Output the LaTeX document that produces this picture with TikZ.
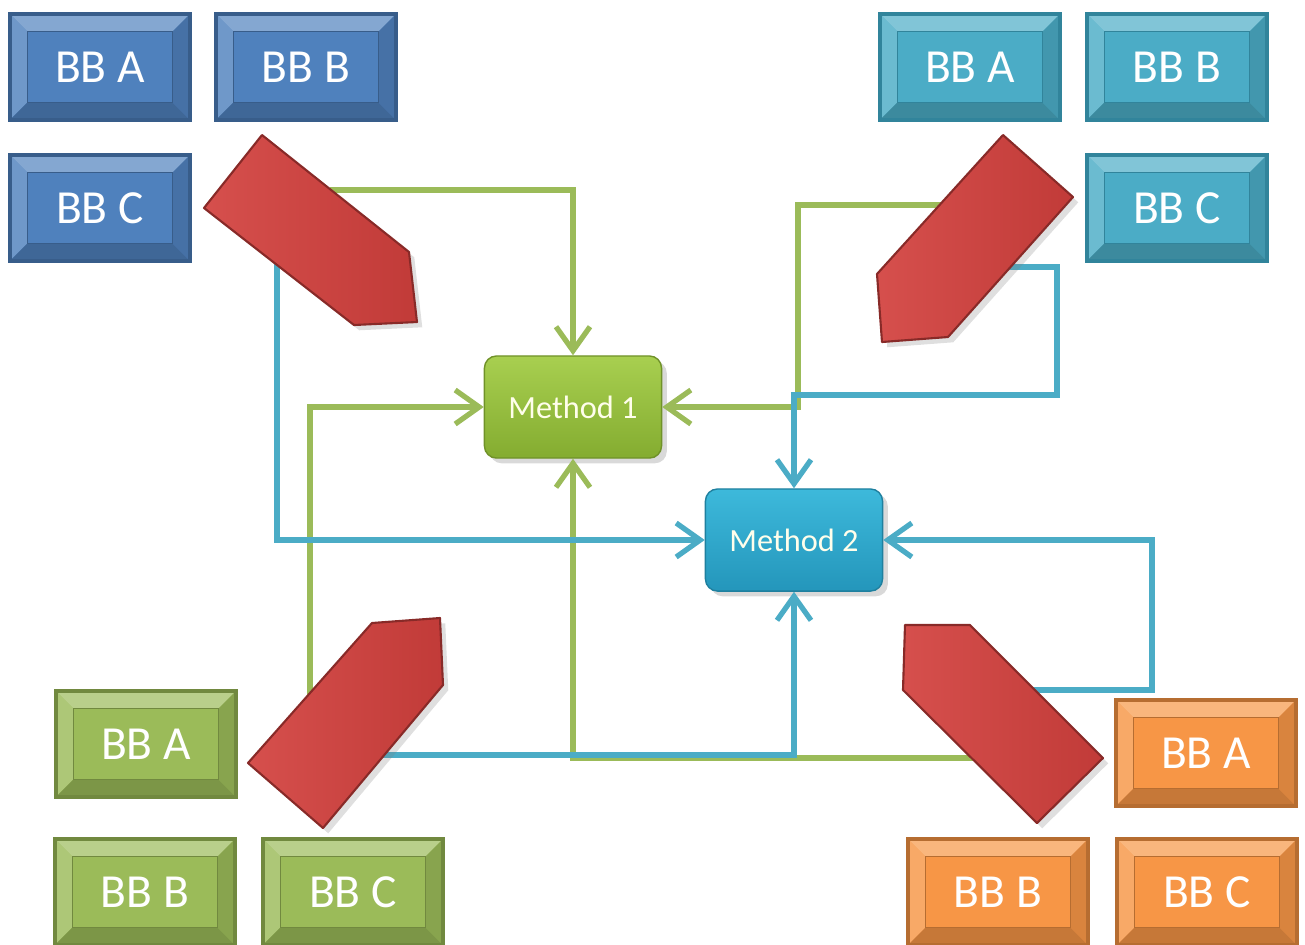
\documentclass[tikz,border=0pt]{standalone}
\usepackage{fontspec}
\setmainfont{Carlito}
\usetikzlibrary{arrows.meta,shadows}

\definecolor{bbblue}{HTML}{4F81BD}
\definecolor{bbblueD}{HTML}{385D8A}
\definecolor{bbteal}{HTML}{4BACC6}
\definecolor{bbtealD}{HTML}{31849B}
\definecolor{bbgreen}{HTML}{9BBB59}
\definecolor{bbgreenD}{HTML}{71893F}
\definecolor{bborange}{HTML}{F79646}
\definecolor{bborangeD}{HTML}{B66D31}
\definecolor{arrowred}{HTML}{D2403D}
\definecolor{lnGreen}{HTML}{9BBB59}
\definecolor{lnBlue}{HTML}{4BACC6}
\definecolor{mOneTop}{HTML}{A8CF50}
\definecolor{mOneBot}{HTML}{84AC30}
\definecolor{mTwoTop}{HTML}{3DB9DB}
\definecolor{mTwoBot}{HTML}{2496BB}

\tikzset{
  bb/.style 2 args={rectangle, minimum width=1.8cm, minimum height=1.06cm,
    fill=#1, draw=#2, line width=1pt, text=white,
    font=\fontsize{13.5}{16}\selectfont,
    path picture={
      \path (path picture bounding box.north west) coordinate (pnw)
            (path picture bounding box.north east) coordinate (pne)
            (path picture bounding box.south west) coordinate (psw)
            (path picture bounding box.south east) coordinate (pse)
            ([shift={(5pt,-5pt)}]pnw) coordinate (qnw)
            ([shift={(-5pt,-5pt)}]pne) coordinate (qne)
            ([shift={(5pt,5pt)}]psw) coordinate (qsw)
            ([shift={(-5pt,5pt)}]pse) coordinate (qse);
      \fill[#1!70!white] (pnw) -- (pne) -- (qne) -- (qnw) -- cycle;
      \fill[#1!82!white] (pnw) -- (qnw) -- (qsw) -- (psw) -- cycle;
      \fill[#1!80!black] (psw) -- (qsw) -- (qse) -- (pse) -- cycle;
      \fill[#1!88!black] (pne) -- (pse) -- (qse) -- (qne) -- cycle;
      \draw[#2, line width=0.5pt] (qnw) rectangle (qse);
    }},
  method/.style 2 args={rectangle, rounded corners=0.12cm,
    minimum width=1.77cm, minimum height=1.02cm,
    top color=#1, bottom color=#2, draw=#2!85!black, line width=0.4pt,
    text=white!92!yellow, font=\fontsize{9.2}{11}\selectfont,
    drop shadow={opacity=0.3, shadow xshift=1.5pt, shadow yshift=-1.5pt}},
  redarrow/.style={left color=arrowred!92!white, right color=arrowred!92!black,
    draw=arrowred!65!black, line width=0.6pt, line join=round,
    drop shadow={opacity=0.25, shadow xshift=1.5pt, shadow yshift=-1.5pt}},
  gline/.style={draw=lnGreen, line width=1.5pt, -{Straight Barb[length=2.4mm,width=3.4mm]}},
  bline/.style={draw=lnBlue, line width=1.5pt, -{Straight Barb[length=2.4mm,width=3.4mm]}},
}

\begin{document}
\begin{tikzpicture}[x=0.01cm,y=-0.01cm]
\useasboundingbox (0,0) rectangle (1305,944);

% building blocks, top left
\node (tlA) [bb={bbblue}{bbblueD}] at (100,67) {BB A};
\node (tlB) [bb={bbblue}{bbblueD}] at (306,67) {BB B};
\node (tlC) [bb={bbblue}{bbblueD}] at (100,208) {BB C};

% building blocks, top right
\node (trA) [bb={bbteal}{bbtealD}] at (970,67) {BB A};
\node (trB) [bb={bbteal}{bbtealD}] at (1177,67) {BB B};
\node (trC) [bb={bbteal}{bbtealD}] at (1177,208) {BB C};

% building blocks, bottom left
\node (blA) [bb={bbgreen}{bbgreenD}] at (146,744) {BB A};
\node (blB) [bb={bbgreen}{bbgreenD}] at (145,892) {BB B};
\node (blC) [bb={bbgreen}{bbgreenD}] at (353,892) {BB C};

% building blocks, bottom right
\node (brA) [bb={bborange}{bborangeD}] at (1206,753) {BB A};
\node (brB) [bb={bborange}{bborangeD}] at (998,892) {BB B};
\node (brC) [bb={bborange}{bborangeD}] at (1207,892) {BB C};

% methods
\node (m1) [method={mOneTop}{mOneBot}] at (573,407) {Method 1};
\node (m2) [method={mTwoTop}{mTwoBot}] at (794,540) {Method 2};

% line starts and bends
\coordinate (tl-g) at (330,190);
\coordinate (tl-b) at (277,258);
\coordinate (tr-g) at (948,205);
\coordinate (tr-b) at (1003,267);
\coordinate (bl-g) at (310,698);
\coordinate (bl-b) at (375,755);
\coordinate (br-g) at (976,758);
\coordinate (br-b) at (1030,690);
\coordinate (g3) at (798,407);
\coordinate (b2) at (1057,395);
\coordinate (b4) at (1152,540);

% green lines
\draw [gline] (tl-g) -| (m1);
\draw [gline] (bl-g) |- (m1);
\draw [gline] (tr-g) -| (g3) -- (m1);
\draw [gline] (br-g) -| (m1);

% blue lines
\draw [bline] (tl-b) |- (m2);
\draw [bline] (tr-b) -| (b2) -| (m2);
\draw [bline] (bl-b) -| (m2);
\draw [bline] (br-b) -| (b4) -- (m2);

% red arrows
\filldraw [redarrow] (262,135) -- (409,252) -- (417,322) -- (354,325) -- (204,208) -- cycle;
\filldraw [redarrow] (1003,135) -- (1073,197) -- (948,337) -- (882,342) -- (877,274) -- cycle;
\filldraw [redarrow] (372,623) -- (440,618) -- (443,685) -- (323,828) -- (248,763) -- cycle;
\filldraw [redarrow] (905,625) -- (970,625) -- (1103,758) -- (1037,823) -- (903,690) -- cycle;

\end{tikzpicture}
\end{document}
